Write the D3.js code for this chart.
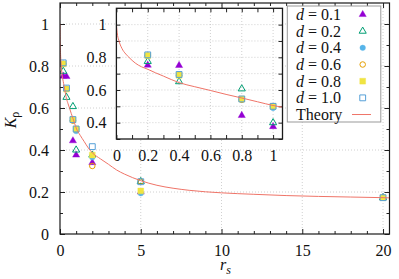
<!DOCTYPE html>
<html><head><meta charset="utf-8">
<script src="https://cdn.jsdelivr.net/npm/d3@7"></script>
<style>
body{margin:0;background:#fff;}
svg{display:block;font-family:"Liberation Serif","Times New Roman",serif;}
</style></head>
<body>
<svg id="c" width="399" height="279"></svg>
<script>
// ---------- data ----------
const rsPoints = [0.2, 0.4, 0.8, 1, 2, 5, 20];
const K_d01 = [0.752, 0.750, 0.444, 0.376, 0.340, 0.200, 0.173];
const K_d02 = [0.775, 0.651, 0.607, 0.400, 0.376, 0.250, 0.173];
const K_d04 = [0.810, 0.690, 0.540, 0.490, 0.365, 0.194, 0.173];
const K_d06 = [0.810, 0.690, 0.540, 0.500, 0.324, 0.250, 0.173];
const K_d08 = [0.810, 0.690, 0.545, 0.500, 0.376, 0.205, 0.173];
const K_d10 = [0.815, 0.695, 0.545, 0.500, 0.416, 0.249, 0.173];
const seriesLabels = ["0.1", "0.2", "0.4", "0.6", "0.8", "1.0"];

const theoryRs = [0, 0.005, 0.015, 0.035, 0.06, 0.08, 0.12, 0.16, 0.2, 0.25, 0.3, 0.4, 0.5, 0.6, 0.7, 0.8, 0.9, 1.0,
  1.25, 1.5, 1.75, 2, 2.5, 3, 3.5, 4, 5, 6, 7, 8, 10, 12, 14, 16, 18, 20, 20.4];
const theoryK = [1.0, 0.95, 0.905, 0.855, 0.82, 0.80, 0.765, 0.742, 0.727, 0.705, 0.685, 0.645, 0.62, 0.597, 0.573, 0.551, 0.528, 0.505,
  0.47, 0.44, 0.41, 0.387, 0.358, 0.332, 0.305, 0.285, 0.254, 0.232, 0.218, 0.208, 0.196, 0.189, 0.183, 0.179, 0.176, 0.173, 0.172];

const mainXTicks = [0, 5, 10, 15, 20];
const mainYTicks = [0, 0.2, 0.4, 0.6, 0.8, 1];
const insetXTicks = [0, 0.2, 0.4, 0.6, 0.8, 1];
const insetYTicks = [0.4, 0.6, 0.8, 1];

// ---------- styles ----------
const styles = [
  {color:"#9400d3", type:d3.symbolTriangle, size:22, filled:true},
  {color:"#009e73", type:d3.symbolTriangle, size:22, filled:false},
  {color:"#56b4e9", type:d3.symbolCircle,   size:24, filled:true},
  {color:"#e69f00", type:d3.symbolCircle,   size:24, filled:false},
  {color:"#f0e442", type:d3.symbolSquare,   size:34, filled:true},
  {color:"#56a0d8", type:d3.symbolSquare,   size:34, filled:false}
];
const series = [K_d01, K_d02, K_d04, K_d06, K_d08, K_d10].map((v, i) => ({
  label: seriesLabels[i], style: styles[i],
  pts: rsPoints.map((r, j) => ({rs: r, k: v[j]}))
}));
const theory = theoryRs.map((r, i) => ({rs: r, k: theoryK[i]}));
const theoryColor = "#ef7468";
const gridColor = "#c4c4c4";

const svg = d3.select("#c");
const FS = 16;

function symbolPath(st){ return d3.symbol().type(st.type).size(st.size)(); }

function drawPlot(g, x, y, opts){
  const [x0, x1] = x.range(), [y0, y1] = y.range(); // y0 bottom
  const clipId = opts.id + "clip";
  g.append("clipPath").attr("id", clipId).append("rect")
    .attr("x", x0).attr("y", y1).attr("width", x1 - x0).attr("height", y0 - y1);
  if (opts.bg) g.append("rect").attr("x", x0).attr("y", y1).attr("width", x1 - x0).attr("height", y0 - y1).attr("fill", "#fff");
  // grid
  const grid = g.append("g").attr("stroke", gridColor).attr("stroke-width", 0.8).attr("stroke-dasharray", "1,2");
  opts.gridX.forEach(v => grid.append("line").attr("x1", x(v)).attr("x2", x(v)).attr("y1", y0).attr("y2", y1));
  opts.gridY.forEach(v => grid.append("line").attr("y1", y(v)).attr("y2", y(v)).attr("x1", x0).attr("x2", x1));
  // axes ticks
  const mk = (axisFn, scale, vals, size, fmt, tr, pad) => {
    const a = g.append("g").attr("transform", tr).call(axisFn(scale).tickValues(vals).tickSize(-size).tickPadding(pad).tickFormat(fmt));
    a.select(".domain").remove();
    a.selectAll("line").attr("stroke", "#222").attr("stroke-width", 1);
    a.selectAll("text").attr("font-size", FS).attr("font-family", "Liberation Serif, serif").attr("fill", "#111");
    return a;
  };
  const f = d3.format("");
  mk(d3.axisBottom, x, opts.xMaj, opts.tMaj, f, `translate(0,${y0})`, 11);
  mk(d3.axisBottom, x, opts.xMin, opts.tMin, "", `translate(0,${y0})`, 0);
  mk(d3.axisTop, x, opts.xMaj, opts.tMaj, "", `translate(0,${y1})`, 0);
  mk(d3.axisTop, x, opts.xMin, opts.tMin, "", `translate(0,${y1})`, 0);
  mk(d3.axisLeft, y, opts.yMaj, opts.tMaj, f, `translate(${x0},0)`, opts.yPad);
  mk(d3.axisLeft, y, opts.yMin, opts.tMin, "", `translate(${x0},0)`, 0);
  mk(d3.axisRight, y, opts.yMaj, opts.tMaj, "", `translate(${x1},0)`, 0);
  mk(d3.axisRight, y, opts.yMin, opts.tMin, "", `translate(${x1},0)`, 0);
  // data
  const dg = g.append("g").attr("clip-path", `url(#${clipId})`);
  series.forEach(s => {
    const st = s.style;
    dg.append("g").selectAll("path").data(s.pts).join("path")
      .attr("d", symbolPath(st))
      .attr("transform", d => `translate(${x(d.rs)},${y(d.k)})`)
      .attr("fill", st.filled ? st.color : "none")
      .attr("stroke", st.color).attr("stroke-width", st.filled ? 0.4 : 1);
  });
  dg.append("path").datum(theory)
    .attr("d", d3.line().x(d => x(d.rs)).y(d => y(d.k)).curve(d3.curveMonotoneX))
    .attr("fill", "none").attr("stroke", theoryColor).attr("stroke-width", 1);
  // frame
  g.append("rect").attr("x", x0).attr("y", y1).attr("width", x1 - x0).attr("height", y0 - y1)
    .attr("fill", "none").attr("stroke", "#1a1a1a").attr("stroke-width", opts.frameW);
}

// ---------- main plot ----------
const xMain = d3.scaleLinear().domain([0, 20.4]).range([60, 389.5]);
const yMain = d3.scaleLinear().domain([0, 1.1]).range([234, 3]);
drawPlot(svg.append("g"), xMain, yMain, {
  id: "main",
  gridX: [5, 10, 15, 20], gridY: [0.2, 0.4, 0.6, 0.8, 1.0],
  xMaj: mainXTicks, xMin: d3.range(1, 21).filter(v => v % 5 !== 0),
  yMaj: mainYTicks, yMin: [0.1, 0.3, 0.5, 0.7, 0.9],
  tMaj: 5, tMin: 3, yPad: 11, frameW: 1.2
});

// ---------- inset ----------
const xIn = d3.scaleLinear().domain([0, 1.06]).range([116.4, 282.5]);
const yIn = d3.scaleLinear().domain([0.3, 1.1]).range([139, 8.3]);
drawPlot(svg.append("g"), xIn, yIn, {
  id: "inset", bg: true,
  gridX: [0.2, 0.4, 0.6, 0.8, 1.0], gridY: [0.4, 0.5, 0.6, 0.7, 0.8, 0.9, 1.0],
  xMaj: insetXTicks, xMin: [0.1, 0.3, 0.5, 0.7, 0.9],
  yMaj: insetYTicks, yMin: [0.3, 0.5, 0.7, 0.9],
  tMaj: 4, tMin: 4, yPad: 10, frameW: 1.3
});

// ---------- legend ----------
const lg = svg.append("g");
lg.append("rect").attr("x", 287.3).attr("y", 6).attr("width", 93.5).attr("height", 116)
  .attr("fill", "#fff").attr("stroke", "#999").attr("stroke-width", 1);
const rowY = i => 20 + i * 16.67;
series.forEach((s, i) => {
  const t = lg.append("text").attr("x", 296).attr("y", rowY(i)).attr("font-size", FS).attr("fill", "#111");
  t.append("tspan").attr("font-style", "italic").text("d");
  t.append("tspan").text(" = " + s.label);
  const st = s.style;
  lg.append("path").attr("d", symbolPath(st))
    .attr("transform", `translate(362.7,${rowY(i) - 5.5})`)
    .attr("fill", st.filled ? st.color : "none")
    .attr("stroke", st.color).attr("stroke-width", st.filled ? 0.4 : 1);
});
lg.append("text").attr("x", 296).attr("y", rowY(6)).attr("font-size", FS).attr("fill", "#111").text("Theory");
lg.append("line").attr("x1", 352).attr("x2", 371).attr("y1", rowY(6) - 5.5).attr("y2", rowY(6) - 5.5)
  .attr("stroke", theoryColor).attr("stroke-width", 1);

// ---------- axis labels ----------
const xl = svg.append("text").attr("x", 220).attr("y", 270).attr("font-size", FS).attr("fill", "#111");
xl.append("tspan").attr("font-style", "italic").text("r");
xl.append("tspan").attr("font-style", "italic").attr("font-size", 12).attr("dy", 4).text("s");

const yl = svg.append("text").attr("transform", "translate(16,120) rotate(-90)")
  .attr("text-anchor", "middle").attr("font-size", FS).attr("fill", "#111");
yl.append("tspan").attr("font-style", "italic").text("K");
yl.append("tspan").attr("font-size", 12).attr("dy", 3).text("ρ");
</script>
</body></html>
